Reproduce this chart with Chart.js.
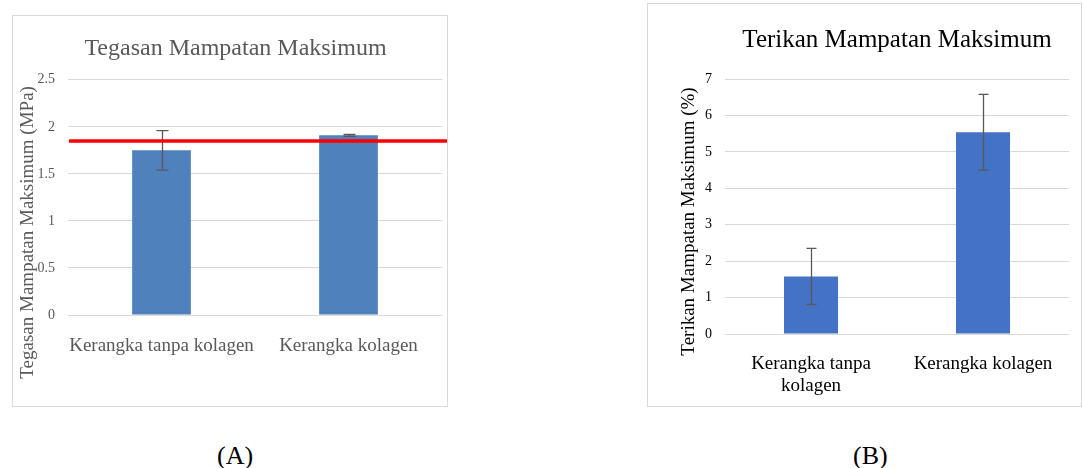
<!DOCTYPE html>
<html>
<head>
<meta charset="utf-8">
<script src="https://cdn.jsdelivr.net/npm/chart.js@4/dist/chart.umd.min.js"></script>
<style>
    body { margin: 0; background: #fff; width: 1083px; height: 468px; overflow: hidden; position: relative; }
    .box { position: absolute; border: 1px solid #d9d9d9; box-sizing: border-box; }
    .box canvas { position: absolute; left: 0; top: 0; }
    .tag { position: absolute; font-family: "Liberation Serif", serif; font-size: 26px; color: #000; line-height: 1; }
</style>
</head>
<body>
<div class="box" id="boxA" style="left:12px; top:15px; width:436px; height:392px;"><canvas id="chartA"></canvas></div>
<div class="box" id="boxB" style="left:647px; top:3px; width:435px; height:404px;"><canvas id="chartB"></canvas></div>
<div class="tag" style="left:217px; top:443px;">(A)</div>
<div class="tag" style="left:853px; top:443px;">(B)</div>
<script>
// chart A - tegasan (stress)
var categoriesA = ["Kerangka tanpa kolagen", "Kerangka kolagen"];
var stressValues = [1.75, 1.91];
var stressErrors = [0.21, 0.01];
var stressLimit = 1.85;

// chart B - terikan (strain)
var categoriesB = [["Kerangka tanpa", "kolagen"], "Kerangka kolagen"];
var strainValues = [1.58, 5.54];
var strainErrors = [0.77, 1.04];

var FONT = "'Liberation Serif', 'Times New Roman', serif";

// error bars drawn from the y scale
var errorBarPlugin = {
    id: "errorBars",
    afterDatasetsDraw: function (chart, args, opts) {
        var ctx = chart.ctx;
        var yScale = chart.scales.y;
        var meta = chart.getDatasetMeta(0);
        var values = chart.data.datasets[0].data;
        ctx.save();
        ctx.strokeStyle = opts.color;
        ctx.lineWidth = opts.width;
        meta.data.forEach(function (bar, i) {
            var err = opts.errors[i];
            var top = yScale.getPixelForValue(values[i] + err);
            var bottom = yScale.getPixelForValue(values[i] - err);
            var x = Math.round(bar.x) + 0.5;
            ctx.beginPath();
            ctx.moveTo(x, top);
            ctx.lineTo(x, bottom);
            ctx.moveTo(x - opts.cap, top);
            ctx.lineTo(x + opts.cap, top);
            ctx.moveTo(x - opts.cap, bottom);
            ctx.lineTo(x + opts.cap, bottom);
            ctx.stroke();
        });
        ctx.restore();
    }
};

// horizontal red reference line (chart A only)
var refLinePlugin = {
    id: "refLine",
    afterDatasetsDraw: function (chart, args, opts) {
        if (opts.value == null) return;
        var ctx = chart.ctx;
        var y = chart.scales.y.getPixelForValue(opts.value);
        ctx.save();
        ctx.strokeStyle = opts.color;
        ctx.lineWidth = opts.width;
        ctx.beginPath();
        ctx.moveTo(chart.chartArea.left + 1, y);
        ctx.lineTo(chart.width - 1, y);
        ctx.stroke();
        ctx.restore();
    }
};

// rotated y axis title, excel puts it a bit lower than the plot centre
var sideTitlePlugin = {
    id: "sideTitle",
    afterDraw: function (chart, args, opts) {
        var ctx = chart.ctx;
        var area = chart.chartArea;
        ctx.save();
        ctx.translate(opts.x, (area.top + area.bottom) / 2 + opts.shift);
        ctx.rotate(-Math.PI / 2);
        ctx.font = opts.size + "px " + FONT;
        ctx.fillStyle = opts.color;
        ctx.textAlign = "center";
        ctx.textBaseline = "middle";
        ctx.fillText(opts.text, 0, 0);
        ctx.restore();
    }
};

function tickLabel(value) {
    return String(+value.toFixed(2));
}

function makeChart(id, cfg) {
    var box = document.getElementById(id).parentNode;
    var canvas = document.getElementById(id);
    canvas.width = box.clientWidth + 2;
    canvas.height = box.clientHeight + 2;
    canvas.style.left = "-1px";
    canvas.style.top = "-1px";
    return new Chart(canvas, {
        type: "bar",
        data: {
            labels: cfg.labels,
            datasets: [{
                data: cfg.values,
                backgroundColor: cfg.barColor,
                borderWidth: 0,
                categoryPercentage: 1,
                barPercentage: 0.314
            }]
        },
        plugins: [errorBarPlugin, refLinePlugin, sideTitlePlugin],
        options: {
            responsive: false,
            animation: false,
            devicePixelRatio: 1,
            layout: { padding: cfg.padding },
            plugins: {
                legend: { display: false },
                tooltip: { enabled: false },
                title: {
                    display: true,
                    fullSize: cfg.titleFull,
                    text: cfg.title,
                    color: cfg.titleColor,
                    font: { family: FONT, size: cfg.titleSize, weight: "normal", lineHeight: 1.2 },
                    padding: cfg.titlePadding
                },
                errorBars: { errors: cfg.errors, color: "#595959", width: 1.3, cap: cfg.cap },
                refLine: { value: cfg.limit, color: "#ff0000", width: 3.5 },
                sideTitle: { text: cfg.yTitle, x: cfg.yTitleX, shift: cfg.yTitleShift, size: 19, color: cfg.textColor }
            },
            scales: {
                x: {
                    grid: { display: false },
                    border: { display: false },
                    ticks: {
                        color: cfg.textColor,
                        font: { family: FONT, size: 19, lineHeight: 1.15 },
                        padding: cfg.xPad,
                        maxRotation: 0,
                        autoSkip: false
                    },
                    afterFit: function (scale) { scale.height = cfg.xHeight; }
                },
                y: {
                    min: 0,
                    max: cfg.max,
                    grid: { color: "#d9d9d9", lineWidth: 1, drawTicks: false },
                    border: { display: false },
                    ticks: {
                        stepSize: cfg.step,
                        color: cfg.tickColor,
                        font: { family: FONT, size: 14 },
                        padding: 13,
                        callback: tickLabel
                    },
                    afterFit: function (scale) { scale.width = cfg.yWidth; }
                }
            }
        }
    });
}

makeChart("chartA", {
    labels: categoriesA,
    values: stressValues,
    errors: stressErrors,
    limit: stressLimit,
    barColor: "#4f81bd",
    title: "Tegasan Mampatan Maksimum",
    titleFull: true,
    titleColor: "#595959",
    titleSize: 24,
    titlePadding: { top: 19, bottom: 17 },
    yTitle: "Tegasan Mampatan Maksimum (MPa)",
    yTitleX: 16,
    yTitleShift: 35,
    textColor: "#595959",
    tickColor: "#595959",
    padding: { left: 17, right: 6, top: 0, bottom: 0 },
    yWidth: 39,
    xHeight: 92,
    xPad: 12,
    max: 2.5,
    step: 0.5,
    cap: 6
});

makeChart("chartB", {
    labels: categoriesB,
    values: strainValues,
    errors: strainErrors,
    limit: null,
    barColor: "#4472c4",
    title: "Terikan Mampatan Maksimum",
    titleFull: false,
    titleColor: "#000000",
    titleSize: 25,
    titlePadding: { top: 22, bottom: 24 },
    yTitle: "Terikan Mampatan Maksimum (%)",
    yTitleX: 42,
    yTitleShift: 15,
    textColor: "#000000",
    tickColor: "#000000",
    padding: { left: 48, right: 13, top: 0, bottom: 0 },
    yWidth: 30,
    xHeight: 73,
    xPad: 11,
    max: 7,
    step: 1,
    cap: 5
});
</script>
</body>
</html>
